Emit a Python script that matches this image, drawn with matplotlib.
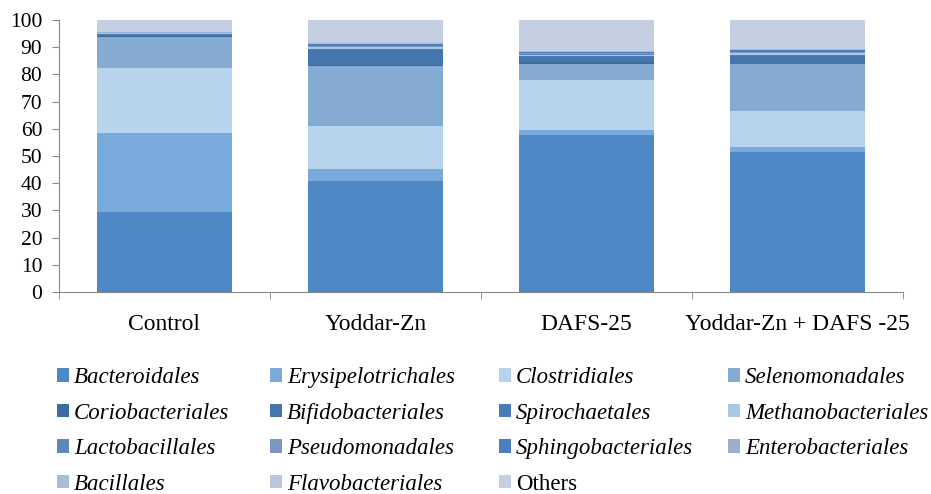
import matplotlib.pyplot as plt
import numpy as np

groups = ["Control", "Yoddar-Zn", "DAFS-25", "Yoddar-Zn + DAFS -25"]
orders = ["Bacteroidales", "Erysipelotrichales", "Clostridiales", "Selenomonadales",
          "Coriobacteriales", "Bifidobacteriales", "Spirochaetales", "Methanobacteriales",
          "Lactobacillales", "Pseudomonadales", "Sphingobacteriales", "Enterobacteriales",
          "Bacillales", "Flavobacteriales", "Others"]

# relative abundance (%) per order, one list per group in the order above
control = [29.4, 29.1, 23.9, 11.2, 0.6, 0.3, 0.4, 0.2, 0.1, 0.1, 0.1, 0.1, 0.1, 0.1, 4.3]
yoddar = [40.8, 4.4, 15.8, 22.0, 0.3, 5.6, 0.6, 0.5, 0.2, 0.4, 0.5, 0.2, 0.4, 0.2, 8.1]
dafs = [57.7, 1.9, 18.3, 5.9, 0.6, 2.1, 0.3, 0.4, 0.2, 0.4, 0.3, 0.2, 0.3, 0.1, 11.3]
combo = [51.5, 1.8, 13.2, 17.2, 0.3, 2.9, 0.4, 0.5, 0.2, 0.3, 0.5, 0.2, 0.2, 0.1, 10.7]

colors = ["#4f88c6", "#7aa9dc", "#b8d3ee", "#86abd3", "#3d6d9e", "#4577ad",
          "#4a7ab8", "#a9c7e3", "#5f84b8", "#7c97c2", "#4b7dbf", "#9baecb",
          "#a8bcd8", "#b8c6de", "#c5cfe2"]

plt.rcParams['font.family'] = ['Liberation Serif', 'DejaVu Serif']

data = np.array([control, yoddar, dafs, combo])
x = np.arange(len(groups))

fig = plt.figure(figsize=(9.31, 4.94), dpi=100)
ax = fig.add_axes([0.0634, 0.409, 0.906, 0.5505])

bottom = np.zeros(len(groups))
handles = []
for i, name in enumerate(orders):
    b = ax.bar(x, data[:, i], 0.64, bottom=bottom, color=colors[i], label=name)
    handles.append(b)
    bottom += data[:, i]

ax.set_xlim(-0.5, 3.5)
ax.set_ylim(0, 100)
ax.set_yticks(range(0, 101, 10))
ax.set_xticks(x)
ax.set_xticklabels(groups, fontsize=17)
ax.set_xticks(np.arange(-0.5, 4, 1), minor=True)
ax.tick_params(axis='x', which='major', length=0, pad=16)
ax.tick_params(axis='x', which='minor', length=5, color='#868686')
ax.tick_params(axis='y', length=5, color='#868686', labelsize=15.5, pad=7)
for s in ['top', 'right']:
    ax.spines[s].set_visible(False)
for s in ['left', 'bottom']:
    ax.spines[s].set_color('#868686')

# legend read row by row: one legend per column so each column sits where it should
col_x = [0.0612, 0.29, 0.536, 0.782]
for j, cx in enumerate(col_x):
    ids = list(range(j, len(orders), 4))
    leg = fig.legend([handles[i] for i in ids], [orders[i] for i in ids],
                     loc='upper left', bbox_to_anchor=(cx, 0.257), frameon=False,
                     prop={'style': 'italic', 'size': 16.5}, handlelength=0.53,
                     handleheight=0.53, handletextpad=0.22, labelspacing=0.635,
                     borderaxespad=0, borderpad=0)
    for t in leg.get_texts():
        if t.get_text() == "Others":
            t.set_fontstyle('normal')

fig.savefig("out.png", dpi=100)
